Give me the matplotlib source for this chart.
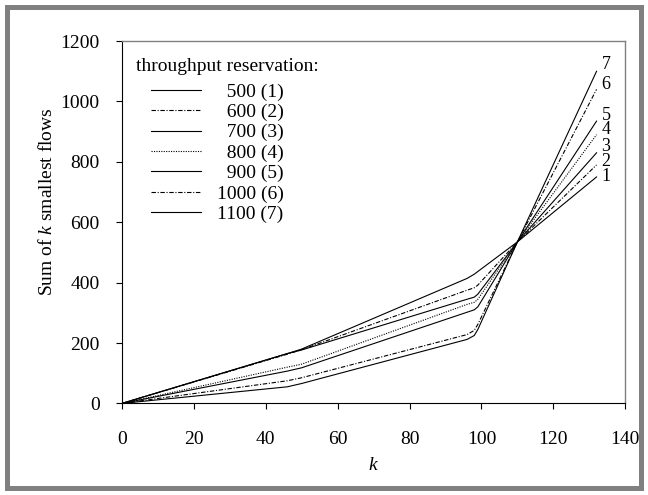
import matplotlib
matplotlib.use("Agg")
import matplotlib.pyplot as plt
from matplotlib.patches import Rectangle

plt.rcParams["font.family"] = ["Liberation Serif", "DejaVu Serif"]
plt.rcParams["mathtext.fontset"] = "custom"
plt.rcParams["mathtext.it"] = "Liberation Serif:italic"
plt.rcParams["mathtext.rm"] = "Liberation Serif"

# k values at which the curves were read
k_grid = [0, 46, 50, 96, 98, 99, 110, 132]

# sum of k smallest flows, one list per throughput reservation
sum_500 = [0, 55, 66, 212, 225, 245, 535, 750]
sum_600 = [0, 75, 85, 228, 242, 262, 535, 790]
sum_700 = [0, 107, 118, 302, 310, 320, 535, 830]
sum_800 = [0, 120, 130, 328, 335, 345, 535, 890]
sum_900 = [0, 165, 177, 345, 352, 362, 535, 935]
sum_1000 = [0, 163, 178, 375, 383, 392, 535, 1040]
sum_1100 = [0, 165, 180, 414, 428, 437, 535, 1100]

reservations = [500, 600, 700, 800, 900, 1000, 1100]
curve_ids = ["1", "2", "3", "4", "5", "6", "7"]
curve_label_y = [750, 800, 850, 906, 952, 1055, 1121]

series = [sum_500, sum_600, sum_700, sum_800, sum_900, sum_1000, sum_1100]
dash_dot = (0, (4, 1.5, 1, 1.5))
styles = ["-", dash_dot, "-", (0, (1, 1.2)), "-", dash_dot, "-"]

fig = plt.figure(figsize=(6.48, 4.95), dpi=100)
ax = fig.add_axes([0.188, 0.185, 0.777, 0.732])

for vals, res, cid, ls in zip(series, reservations, curve_ids, styles):
    lab = f"{res} ({cid})"
    if res < 1000:
        lab = "\u2007" + lab
    ax.plot(k_grid, vals, color="black", lw=0.8, ls=ls, label=lab)

# curve numbers at the right end
for cid, ly in zip(curve_ids, curve_label_y):
    ax.text(134.6, ly, cid, fontsize=13, ha="center", va="center")

ax.set_xlim(0, 140)
ax.set_ylim(0, 1200)
ax.set_xticks(range(0, 141, 20))
ax.set_yticks(range(0, 1201, 200))
ax.tick_params(direction="out", length=4, width=0.8, labelsize=14)
ax.tick_params(axis="x", pad=16)
ax.tick_params(axis="y", pad=12)
for side in ["top", "right"]:
    ax.spines[side].set_color("#808080")
    ax.spines[side].set_linewidth(1.0)

ax.set_xlabel("$k$", fontsize=14, labelpad=6)
ax.set_ylabel("Sum of $k$ smallest flows", fontsize=14)
ax.yaxis.set_label_coords(-0.131, 0.556)

ax.text(0.028, 0.93, "throughput reservation:", transform=ax.transAxes,
        fontsize=14, ha="left", va="center")
ax.legend(loc="upper left", bbox_to_anchor=(0.03, 0.922), frameon=False,
          fontsize=14, handlelength=2.6, handletextpad=0.8, labelspacing=0.14,
          borderpad=0.2)

fig.patches.append(Rectangle((0.0115, 0.015), 0.977, 0.97, transform=fig.transFigure,
                             fill=False, ec="#808080", lw=3.6))

fig.savefig("out.png", dpi=100)
